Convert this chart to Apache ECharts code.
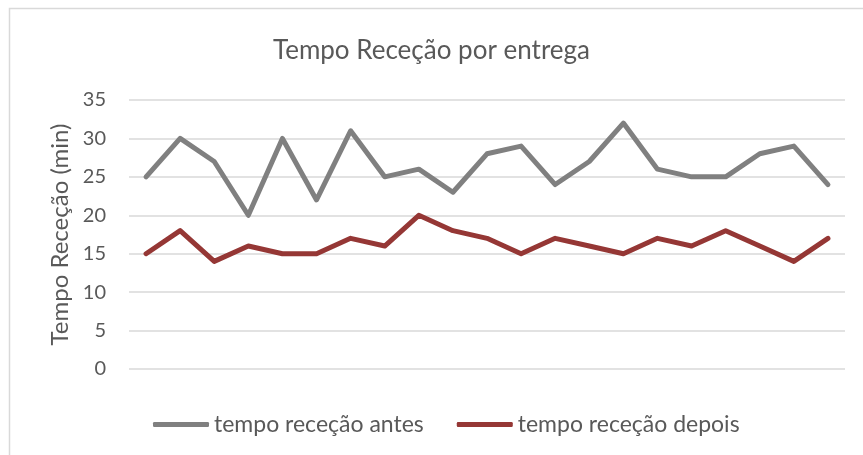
<!DOCTYPE html>
<html>
<head>
<meta charset="utf-8">
<script src="https://cdn.jsdelivr.net/npm/echarts@6/dist/echarts.min.js"></script>
<style>
  html, body { margin: 0; padding: 0; background: #fff; }
  #chart { width: 863px; height: 455px; }
</style>
</head>
<body>
<div id="chart"></div>
<script>
const categories = ['1', '2', '3', '4', '5', '6', '7', '8', '9', '10', '11',
  '12', '13', '14', '15', '16', '17', '18', '19', '20', '21'];
const antes = [25, 30, 27, 20, 30, 22, 31, 25, 26, 23, 28, 29, 24, 27, 32, 26, 25, 25, 28, 29, 24];
const depois = [15, 18, 14, 16, 15, 15, 17, 16, 20, 18, 17, 15, 17, 16, 15, 17, 16, 18, 16, 14, 17];

const textColor = '#595959';
const gridColor = '#d9d9d9';
const baseFont = 'Lato, "Open Sans", sans-serif';

const chart = echarts.init(document.getElementById('chart'));

chart.setOption({
  animation: false,
  graphic: [
    {
      type: 'rect',
      shape: { x: 9.5, y: 8.5, width: 870, height: 460 },
      style: { fill: 'none', stroke: gridColor, lineWidth: 1.5 },
      silent: true
    }
  ],
  title: {
    text: 'Tempo Receção por entrega',
    left: 'center',
    top: 33,
    textStyle: {
      fontFamily: baseFont,
      fontWeight: 'normal',
      fontSize: 26,
      color: textColor
    }
  },
  legend: {
    top: 408,
    left: 148,
    itemWidth: 56,
    itemHeight: 5,
    itemGap: 33,
    icon: 'roundRect',
    textStyle: { fontFamily: baseFont, fontSize: 23, color: textColor },
    data: ['tempo receção antes', 'tempo receção depois']
  },
  grid: {
    left: 129,
    right: 18,
    top: 100,
    bottom: 86
  },
  xAxis: {
    type: 'category',
    data: categories,
    boundaryGap: true,
    axisLine: { show: false },
    axisTick: { show: false },
    axisLabel: { show: false }
  },
  yAxis: {
    type: 'value',
    min: 0,
    max: 35,
    interval: 5,
    name: 'Tempo Receção (min)',
    nameLocation: 'middle',
    nameGap: 55,
    nameTextStyle: { fontFamily: baseFont, fontSize: 24, color: textColor },
    axisLine: { show: false },
    axisTick: { show: false },
    axisLabel: { fontFamily: baseFont, fontSize: 20, color: textColor, margin: 23 },
    splitLine: { lineStyle: { color: gridColor, width: 1.5 } }
  },
  series: [
    {
      name: 'tempo receção antes',
      type: 'line',
      data: antes,
      symbol: 'none',
      color: '#808080',
      lineStyle: { width: 5, color: '#808080', cap: 'round', join: 'round' }
    },
    {
      name: 'tempo receção depois',
      type: 'line',
      data: depois,
      symbol: 'none',
      color: '#953735',
      lineStyle: { width: 5, color: '#953735', cap: 'round', join: 'round' }
    }
  ]
});
</script>
</body>
</html>
